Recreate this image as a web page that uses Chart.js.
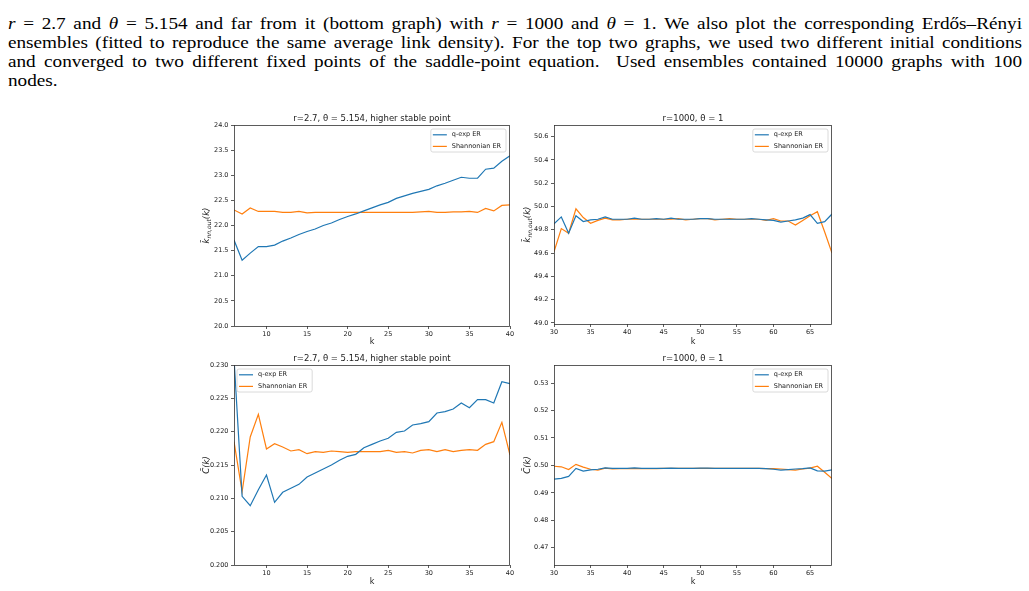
<!DOCTYPE html>
<html>
<head>
<meta charset="utf-8">
<script src="https://cdn.jsdelivr.net/npm/chart.js@4.4.1/dist/chart.umd.min.js"></script>
<style>
  body { margin: 0; background: #fff; width: 1029px; height: 591px; overflow: hidden; position: relative; }
  .para { position: absolute; left: 8px; top: 14px; width: 845px; transform: scaleX(1.2); transform-origin: 0 0; font-family: 'Liberation Serif', serif; font-size: 16px; line-height: 19px; color: #000; }
  .para div { text-align: justify; text-align-last: justify; white-space: nowrap; }
  .para div.last { text-align-last: left; }
  canvas.panel { position: absolute; }
</style>
</head>
<body>
<div class="para">
  <div><i>r</i> = 2.7 and <i>θ</i> = 5.154 and far from it (bottom graph) with <i>r</i> = 1000 and <i>θ</i> = 1. We also plot the corresponding Erdős–Rényi</div>
  <div>ensembles (fitted to reproduce the same average link density). For the top two graphs, we used two different initial conditions</div>
  <div>and converged to two different fixed points of the saddle-point equation. &nbsp;Used ensembles contained 10000 graphs with 100</div>
  <div class="last">nodes.</div>
</div>
<canvas id="p1" class="panel"></canvas>
<canvas id="p2" class="panel"></canvas>
<canvas id="p3" class="panel"></canvas>
<canvas id="p4" class="panel"></canvas>
<script>
// --- data ---
const seriesNames = ['q-exp ER', 'Shannonian ER'];
const titleLeft = 'r=2.7, θ = 5.154, higher stable point';
const titleRight = 'r=1000, θ = 1';

const kLeft = [6, 7, 8, 9, 10, 11, 12, 13, 14, 15, 16, 17, 18, 19, 20, 21, 22, 23, 24, 25, 26, 27, 28, 29, 30, 31, 32, 33, 34, 35, 36, 37, 38, 39, 40];
const kRight = [30, 31, 32, 33, 34, 35, 36, 37, 38, 39, 40, 41, 42, 43, 44, 45, 46, 47, 48, 49, 50, 51, 52, 53, 54, 55, 56, 57, 58, 59, 60, 61, 62, 63, 64, 65, 66, 67, 68];

// top-left: knn,out(k), r=2.7
const knnQexpLeft = [21.71, 21.31, 21.45, 21.58, 21.58, 21.61, 21.69, 21.75, 21.82, 21.88, 21.93, 22.00, 22.05, 22.12, 22.18, 22.23, 22.29, 22.35, 22.41, 22.46, 22.54, 22.59, 22.64, 22.68, 22.72, 22.79, 22.84, 22.90, 22.96, 22.94, 22.94, 23.12, 23.14, 23.28, 23.39];
const knnShanLeft = [22.31, 22.23, 22.35, 22.28, 22.28, 22.28, 22.26, 22.26, 22.28, 22.25, 22.26, 22.26, 22.26, 22.26, 22.26, 22.26, 22.26, 22.26, 22.26, 22.26, 22.26, 22.26, 22.26, 22.27, 22.28, 22.26, 22.26, 22.27, 22.27, 22.28, 22.26, 22.34, 22.29, 22.40, 22.41];

// top-right: knn,out(k), r=1000
const knnQexpRight = [49.85, 49.91, 49.77, 49.92, 49.87, 49.885, 49.89, 49.91, 49.89, 49.89, 49.89, 49.90, 49.89, 49.89, 49.895, 49.89, 49.90, 49.89, 49.89, 49.89, 49.895, 49.895, 49.89, 49.89, 49.89, 49.89, 49.89, 49.895, 49.89, 49.885, 49.88, 49.865, 49.875, 49.885, 49.90, 49.93, 49.855, 49.87, 49.935];
const knnShanRight = [49.61, 49.81, 49.77, 49.98, 49.905, 49.855, 49.88, 49.90, 49.885, 49.885, 49.89, 49.89, 49.89, 49.89, 49.89, 49.89, 49.89, 49.895, 49.885, 49.89, 49.895, 49.895, 49.885, 49.89, 49.895, 49.89, 49.89, 49.89, 49.89, 49.88, 49.895, 49.875, 49.875, 49.84, 49.88, 49.92, 49.955, 49.78, 49.60];

// bottom-left: C(k), r=2.7
const cQexpLeft = [0.2310, 0.2103, 0.2089, 0.2113, 0.2135, 0.2094, 0.2109, 0.2115, 0.2121, 0.2132, 0.2138, 0.2144, 0.2150, 0.2157, 0.2163, 0.2166, 0.2176, 0.2181, 0.2186, 0.2190, 0.2199, 0.2201, 0.2210, 0.2212, 0.2215, 0.2228, 0.2230, 0.2234, 0.2243, 0.2236, 0.2248, 0.2248, 0.2243, 0.2275, 0.2272];
const cShanLeft = [0.2185, 0.2110, 0.2192, 0.2226, 0.2174, 0.2182, 0.2177, 0.2171, 0.2173, 0.2167, 0.2170, 0.2169, 0.2171, 0.2170, 0.2169, 0.2170, 0.2170, 0.2170, 0.2170, 0.2172, 0.2169, 0.2170, 0.2168, 0.2172, 0.2173, 0.2170, 0.2173, 0.2170, 0.2172, 0.2173, 0.2172, 0.2181, 0.2185, 0.2214, 0.2165];

// bottom-right: C(k), r=1000
const cQexpRight = [0.4950, 0.4953, 0.4960, 0.4989, 0.4979, 0.4984, 0.4986, 0.4991, 0.4989, 0.4989, 0.4989, 0.4991, 0.4989, 0.4989, 0.4989, 0.4989, 0.4990, 0.4989, 0.4989, 0.4989, 0.4990, 0.4990, 0.4989, 0.4989, 0.4989, 0.4989, 0.4989, 0.4989, 0.4989, 0.4988, 0.4986, 0.4983, 0.4985, 0.4987, 0.4988, 0.4991, 0.4980, 0.4979, 0.4984];
const cShanRight = [0.4997, 0.4995, 0.4985, 0.5004, 0.4994, 0.4986, 0.4983, 0.4990, 0.4987, 0.4988, 0.4988, 0.4988, 0.4988, 0.4988, 0.4988, 0.4989, 0.4989, 0.4989, 0.4989, 0.4989, 0.4989, 0.4989, 0.4989, 0.4989, 0.4989, 0.4989, 0.4989, 0.4989, 0.4989, 0.4988, 0.4988, 0.4987, 0.4985, 0.4983, 0.4987, 0.4990, 0.4997, 0.4975, 0.4952];

// tick labels
const xTicksLeft = ['10', '15', '20', '25', '30', '35', '40'];
const xTicksRight = ['30', '35', '40', '45', '50', '55', '60', '65'];
const yTicksKnnLeft = ['20.0', '20.5', '21.0', '21.5', '22.0', '22.5', '23.0', '23.5', '24.0'];
const yTicksKnnRight = ['49.0', '49.2', '49.4', '49.6', '49.8', '50.0', '50.2', '50.4', '50.6'];
const yTicksCLeft = ['0.200', '0.205', '0.210', '0.215', '0.220', '0.225', '0.230'];
const yTicksCRight = ['0.47', '0.48', '0.49', '0.50', '0.51', '0.52', '0.53'];

// y labels as [text, is subscript] pieces
const knnLabel = [['k\u0304', false], ['nn,out', true], ['(k)', false]];
const cLabel = [['C\u0304(k)', false]];

const BLUE = '#1f77b4';
const ORANGE = '#ff7f0e';
const INK = '#222';
const SPINE = '#333';
const FONT = "'DejaVu Sans', sans-serif";

// legend box, axes frame and math-style y label, drawn like matplotlib
const frameLegend = {
    id: 'frameLegend',
    afterDraw(chart, args, opts) {
        const ctx = chart.ctx;
        const a = chart.chartArea;
        ctx.save();
        ctx.font = '6.5px ' + FONT;
        const labels = chart.data.datasets.map(d => d.label);
        const tw = Math.max(...labels.map(l => ctx.measureText(l).width));
        const w = tw + 26, h = 23;
        const x = opts.side === 'left' ? a.left + 3 : a.right - 4 - w;
        const y = a.top + 4;
        ctx.beginPath();
        ctx.roundRect(x, y, w, h, 2);
        ctx.fillStyle = 'rgba(255,255,255,0.85)';
        ctx.fill();
        ctx.strokeStyle = '#d0d0d0';
        ctx.lineWidth = 0.8;
        ctx.stroke();
        chart.data.datasets.forEach((d, i) => {
            const ry = y + 5.8 + i * 11.6;
            ctx.beginPath();
            ctx.moveTo(x + 2, ry);
            ctx.lineTo(x + 16, ry);
            ctx.strokeStyle = d.borderColor;
            ctx.lineWidth = 1.2;
            ctx.stroke();
            ctx.fillStyle = INK;
            ctx.textBaseline = 'middle';
            ctx.fillText(d.label, x + 21, ry);
        });
        ctx.strokeStyle = SPINE;
        ctx.lineWidth = 0.8;
        ctx.strokeRect(Math.round(a.left) + 0.5, Math.round(a.top) + 0.5, Math.round(a.right - a.left) - 1, Math.round(a.bottom - a.top));

        // rotated y label with a real subscript
        const parts = opts.yLabel;
        const fontFor = sub => 'italic ' + (sub ? 6 : 8.5) + 'px ' + FONT;
        let total = 0;
        parts.forEach(([t, sub]) => { ctx.font = fontFor(sub); total += ctx.measureText(t).width; });
        ctx.translate(opts.yLabelX, (a.top + a.bottom) / 2);
        ctx.rotate(-Math.PI / 2);
        ctx.fillStyle = INK;
        ctx.textBaseline = 'alphabetic';
        let cx = -total / 2;
        parts.forEach(([t, sub]) => {
            ctx.font = fontFor(sub);
            ctx.fillText(t, cx, sub ? 5 : 3);
            cx += ctx.measureText(t).width;
        });
        ctx.restore();
    }
};

function makePanel(id, p) {
    const cv = document.getElementById(id);
    cv.width = p.W; cv.height = p.H;
    cv.style.left = p.L + 'px'; cv.style.top = p.T + 'px';
    cv.style.width = p.W + 'px'; cv.style.height = p.H + 'px';

    const lhT = 8.5 * 1.2, lhA = 8 * 1.2;
    const tTop = p.titleY - p.T - lhT / 2;
    const tBot = (p.area.t - p.T) - tTop - lhT;
    const yw = p.area.l - p.L;
    const xh = p.T + p.H - p.area.b;
    const xTitleBot = p.T + p.H - p.xTitleY - lhA / 2;

    const tickGrid = { display: true, drawOnChartArea: false, drawTicks: true, tickLength: 3, tickColor: SPINE, tickWidth: 0.8 };

    new Chart(cv.getContext('2d'), {
        type: 'line',
        data: {
            datasets: [
                { label: seriesNames[0], data: p.k.map((k, i) => ({ x: k, y: p.a[i] })), borderColor: BLUE },
                { label: seriesNames[1], data: p.k.map((k, i) => ({ x: k, y: p.b[i] })), borderColor: ORANGE }
            ]
        },
        options: {
            responsive: false,
            animation: false,
            layout: { padding: { left: 0, right: p.L + p.W - p.area.r, top: 0, bottom: 0 } },
            elements: { point: { radius: 0 }, line: { borderWidth: 1.2, tension: 0, fill: false } },
            plugins: {
                legend: { display: false },
                tooltip: { enabled: false },
                title: {
                    display: true, text: p.title, fullSize: false, color: INK,
                    font: { family: FONT, size: 8.5, weight: 'normal' },
                    padding: { top: tTop, bottom: tBot }
                },
                frameLegend: { side: p.legend, yLabel: p.yTitle, yLabelX: p.yTitleX - p.L }
            },
            scales: {
                x: {
                    type: 'linear', min: p.xMin, max: p.xMax, bounds: 'data',
                    afterBuildTicks: s => { s.ticks = p.xTicks.map(t => ({ value: Number(t) })); },
                    afterFit: s => { s.height = xh; },
                    grid: tickGrid,
                    border: { display: false },
                    ticks: { font: { family: FONT, size: 6.5 }, color: INK, padding: 1.5, maxRotation: 0, autoSkip: false, callback: (v, i) => p.xTicks[i] },
                    title: { display: true, text: 'k', color: INK, font: { family: FONT, size: 8 }, padding: { top: 0, bottom: xTitleBot } }
                },
                y: {
                    type: 'linear', min: p.yMin, max: p.yMax, bounds: 'data',
                    afterBuildTicks: s => { s.ticks = p.yTicks.map(t => ({ value: Number(t) })); },
                    afterFit: s => { s.width = yw; },
                    grid: tickGrid,
                    border: { display: false },
                    ticks: { font: { family: FONT, size: 6.5 }, color: INK, padding: 2.5, autoSkip: false, callback: (v, i) => p.yTicks[i] },
                    title: { display: false }
                }
            }
        },
        plugins: [frameLegend]
    });
}

makePanel('p1', { L: 190, T: 110, W: 330, H: 240, area: { l: 234, t: 125, r: 510, b: 326 }, titleY: 119, yTitleX: 206, xTitleY: 342,
    title: titleLeft, yTitle: knnLabel, k: kLeft, a: knnQexpLeft, b: knnShanLeft,
    xMin: 6, xMax: 40, yMin: 20, yMax: 24, xTicks: xTicksLeft, yTicks: yTicksKnnLeft, legend: 'right' });

makePanel('p2', { L: 520, T: 110, W: 320, H: 240, area: { l: 554, t: 125, r: 832, b: 324 }, titleY: 119, yTitleX: 527, xTitleY: 342,
    title: titleRight, yTitle: knnLabel, k: kRight, a: knnQexpRight, b: knnShanRight,
    xMin: 30, xMax: 68, yMin: 48.99, yMax: 50.70, xTicks: xTicksRight, yTicks: yTicksKnnRight, legend: 'right' });

makePanel('p3', { L: 190, T: 350, W: 330, H: 241, area: { l: 234, t: 365, r: 510, b: 565 }, titleY: 359, yTitleX: 206, xTitleY: 582,
    title: titleLeft, yTitle: cLabel, k: kLeft, a: cQexpLeft, b: cShanLeft,
    xMin: 6, xMax: 40, yMin: 0.200, yMax: 0.230, xTicks: xTicksLeft, yTicks: yTicksCLeft, legend: 'left' });

makePanel('p4', { L: 520, T: 350, W: 320, H: 241, area: { l: 554, t: 365, r: 832, b: 565 }, titleY: 359, yTitleX: 527, xTitleY: 582,
    title: titleRight, yTitle: cLabel, k: kRight, a: cQexpRight, b: cShanRight,
    xMin: 30, xMax: 68, yMin: 0.4637, yMax: 0.5366, xTicks: xTicksRight, yTicks: yTicksCRight, legend: 'right' });
</script>
</body>
</html>
